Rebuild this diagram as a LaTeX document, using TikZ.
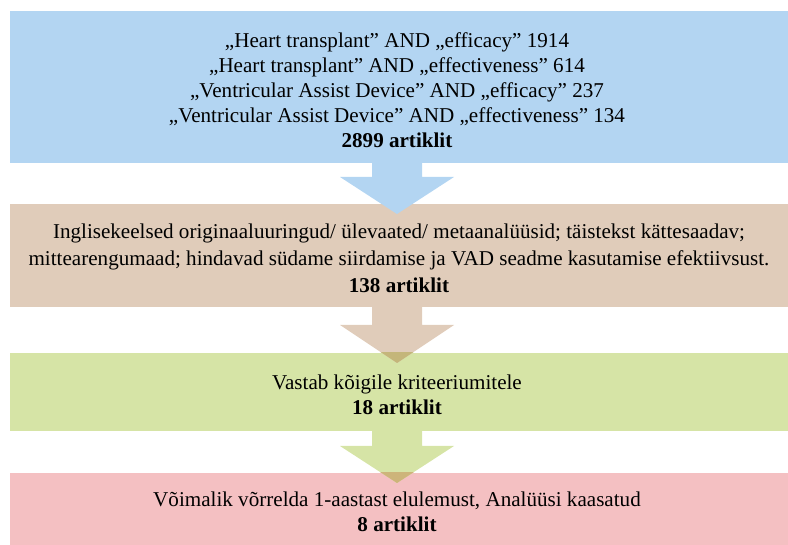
\documentclass[tikz,border=0pt]{standalone}
\usepackage{fontspec}
\setmainfont{Liberation Serif}
\definecolor{cblue}{RGB}{179,213,242}
\definecolor{ctan}{RGB}{224,204,186}
\definecolor{cgreen}{RGB}{214,228,166}
\definecolor{cpink}{RGB}{244,192,194}
\definecolor{ovtg}{RGB}{196,182,122}
\definecolor{ovgp}{RGB}{205,180,122}
\begin{document}
\begin{tikzpicture}[x=1pt,y=-1pt,
  stagebox/.style={rectangle,inner sep=0pt,minimum width=778pt,align=center,
    font=\fontsize{21.1}{25}\selectfont}]
\useasboundingbox (0,0) rectangle (788,545);
% boxes
\fill[cblue]  (10,11)  rectangle (788,163);
\fill[ctan]   (10,204) rectangle (788,307);
\fill[cgreen] (10,353) rectangle (788,431);
\fill[cpink]  (10,473) rectangle (788,545);
% arrows
\fill[cblue] (372,163) -- (422,163) -- (422,177) -- (454,177) -- (397,214) -- (340,177) -- (372,177) -- cycle;
\fill[ctan] (372,307) -- (422,307) -- (422,325) -- (454,325) -- (397,363) -- (340,325) -- (372,325) -- cycle;
\begin{scope}
\clip (10,353) rectangle (788,431);
\fill[ovtg] (340,325) -- (454,325) -- (397,363) -- cycle;
\end{scope}
\fill[cgreen] (372,431) -- (422,431) -- (422,446) -- (454,446) -- (397,483) -- (340,446) -- (372,446) -- cycle;
\begin{scope}
\clip (10,473) rectangle (788,545);
\fill[ovgp] (340,446) -- (454,446) -- (397,483) -- cycle;
\end{scope}
% texts
\node[stagebox] (t1) at (397,90) {„Heart transplant” AND „efficacy” 1914\\
„Heart transplant” AND „effectiveness” 614\\
„Ventricular Assist Device” AND „efficacy” 237\\
„Ventricular Assist Device” AND „effectiveness” 134\\
\textbf{2899 artiklit}};
\node[stagebox,font=\fontsize{21.1}{27}\selectfont] (t2) at (399,258) {Inglisekeelsed originaaluuringud/ ülevaated/ metaanalüüsid; täistekst kättesaadav;\\
mittearengumaad; hindavad südame siirdamise ja VAD seadme kasutamise efektiivsust.\\
\textbf{138 artiklit}};
\node[stagebox] (t3) at (397,395) {Vastab kõigile kriteeriumitele\\ \textbf{18 artiklit}};
\node[stagebox] (t4) at (397,512) {Võimalik võrrelda 1-aastast elulemust, Analüüsi kaasatud\\ \textbf{8 artiklit}};
\end{tikzpicture}
\end{document}
